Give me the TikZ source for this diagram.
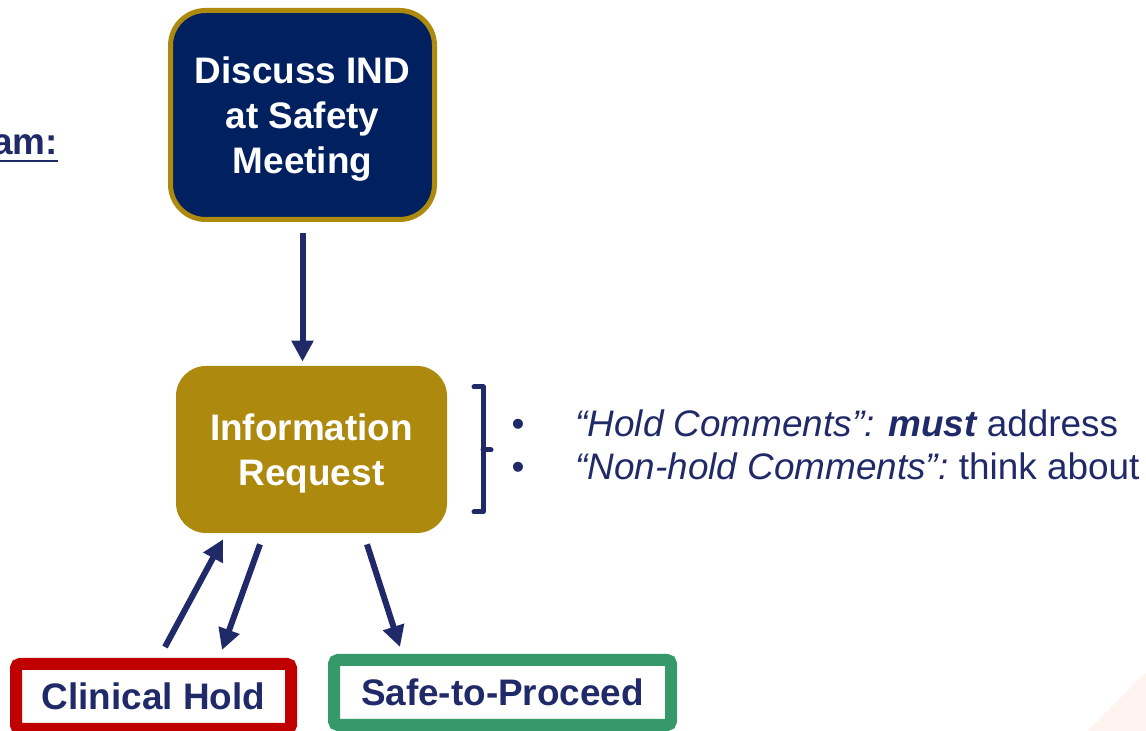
\documentclass[tikz,border=0pt]{standalone}
\usepackage{fontspec}
\setmainfont{Liberation Sans}
\usetikzlibrary{arrows.meta,calc}
\definecolor{navyfill}{HTML}{002060}
\definecolor{navytext}{HTML}{202A68}
\definecolor{goldfill}{HTML}{AD8A0E}
\definecolor{holdred}{HTML}{C00000}
\definecolor{okgreen}{HTML}{35996A}
\definecolor{peach}{HTML}{FEF3EE}
\newcommand{\toplift}{\rule{0pt}{20pt}}
\begin{document}
\begin{tikzpicture}[
  bigtext/.style={font=\bfseries\fontsize{21}{25.5}\selectfont, align=center},
  meetbox/.style={bigtext, text=white, fill=navyfill, draw=goldfill, line width=0.1cm,
    rounded corners=0.7cm, minimum width=5.28cm, minimum height=4.18cm},
  reqbox/.style={bigtext, text=white, fill=goldfill, rounded corners=0.6cm,
    minimum width=5.42cm, minimum height=3.34cm},
  outbox/.style={bigtext, text=navytext, fill=white, line width=0.24cm,
    rounded corners=0.08cm, minimum height=1.3cm},
  flow/.style={navytext, line width=0.12cm, -{Triangle[length=12pt,width=12pt]}},
  note/.style={font=\fontsize{21}{25.5}\selectfont, text=navytext, inner sep=0pt},
]
\useasboundingbox (0,0) rectangle (22.920,14.620);
\clip (0,0) rectangle (22.920,14.620);
\fill[peach] (22.920,1.180) -- (21.760,0) -- (22.920,0) -- cycle;
% heading, cut at the left edge
\node[bigtext, text=navytext, anchor=base east, inner sep=0pt] (head) at (1.160,11.520) {am:};
\draw[navytext, line width=0.05cm] ([yshift=-0.12cm]head.base west) -- ([yshift=-0.12cm]head.base east);
% boxes
\node[meetbox] (meet) at (6.050,12.320) {\toplift Discuss IND\\at Safety\\Meeting};
\node[reqbox] (req) at (6.230,5.630) {\toplift Information\\Request};
\node[outbox, draw=holdred, minimum width=5.5cm] (hold) at (3.070,0.690) {Clinical Hold};
\node[outbox, draw=okgreen, minimum width=6.74cm] (safe) at (10.050,0.770) {Safe-to-Proceed};
% arrows
\draw[flow, shorten <=0.22cm, shorten >=0.08cm] (meet.south) -- (meet.south |- req.north);
\draw[flow] ($(hold.north)+(0.230,0.220)$) -- ($(req.south)+(-1.770,-0.120)$);
\draw[flow] ($(req.south)+(-1.030,-0.220)$) -- ($(hold.north)+(1.370,0.160)$);
\draw[flow] ($(req.south)+(1.110,-0.220)$) -- ($(safe.north)+(-2.050,0.140)$);
% bracket
\draw[navytext, line width=0.1cm, line cap=round, line join=round]
  (9.480,6.880) -- (9.660,6.880) -- (9.660,4.380) -- (9.480,4.380);
\draw[navytext, line width=0.1cm, line cap=round] (9.660,5.620) -- (9.820,5.620);
% comments
\node[note, anchor=base] (dot1) at (10.360,5.880) {•};
\node[note, anchor=base] (dot2) at (10.360,5.020) {•};
\node[note, anchor=base west] (hc) at (11.500,5.880) {\itshape “Hold Comments”: \textbf{must}\upshape\ address};
\node[note, anchor=base west] (nhc) at (11.500,5.020) {\itshape “Non-hold Comments”:\upshape\ think about};
\end{tikzpicture}
\end{document}
